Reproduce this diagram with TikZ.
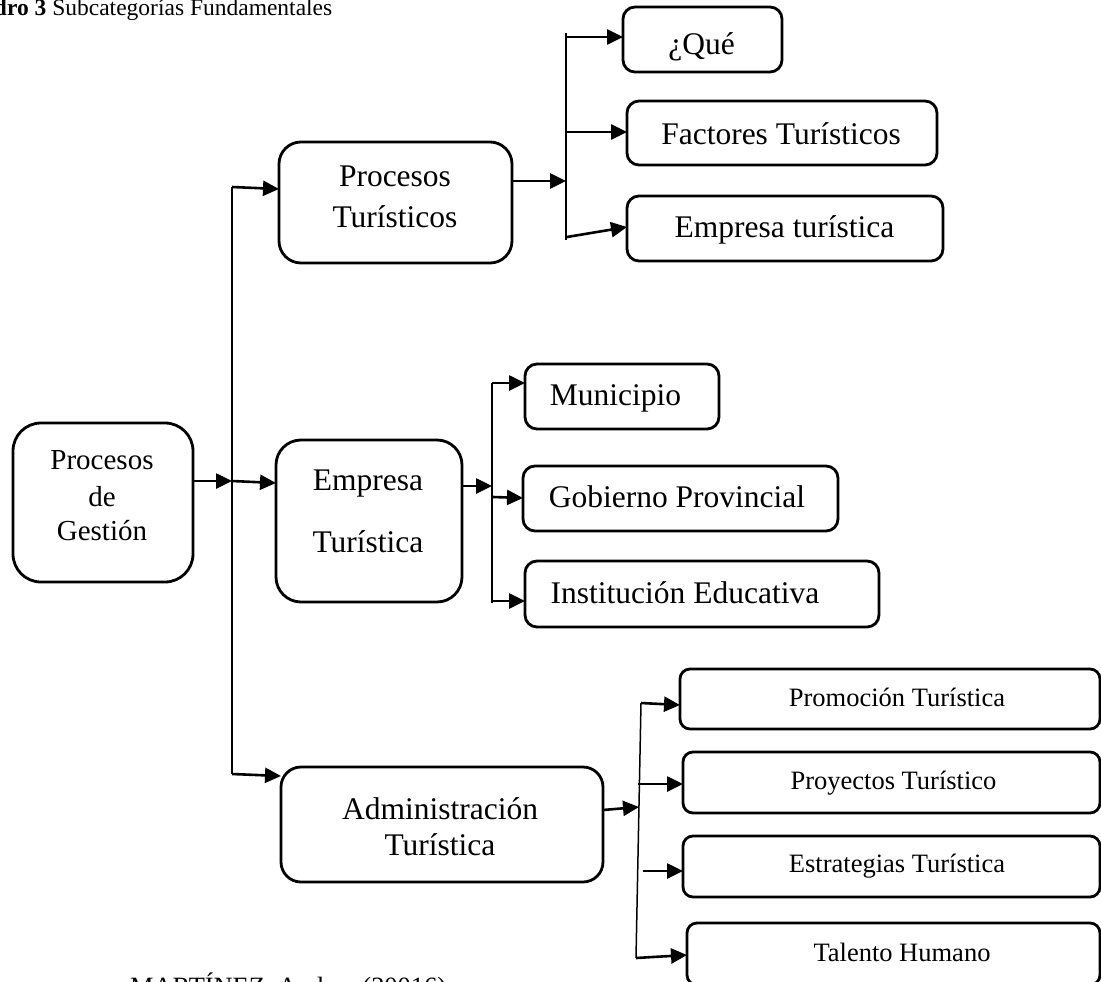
\documentclass[tikz,border=0pt]{standalone}
\usepackage{fontspec}
\setmainfont{Liberation Serif}
\usetikzlibrary{arrows.meta}
\begin{document}
\begin{tikzpicture}[x=1pt,y=-1pt,
  box/.style={draw, line width=2.8pt, rounded corners=#1, inner sep=0pt, outer sep=0pt},
  box/.default=12pt,
  lbl/.style={anchor=base, inner sep=0pt, font=\fontsize{31.5}{38}\selectfont},
  lbls/.style={anchor=base, inner sep=0pt, font=\fontsize{26.5}{32}\selectfont},
  arr/.style={line width=2.6pt, -{Triangle[length=16pt,width=15pt]}},
  trunk/.style={line width=1.5pt}]
\path[use as bounding box] (0,0) rectangle (1101,982);
\clip (0,0) rectangle (1101,982);
\fill[white] (0,0) rectangle (1101,982);

% title and source
\node[anchor=base west, inner sep=0pt, font=\fontsize{23.5}{28}\selectfont] (title) at (-48,16) {\textbf{Cuadro 3} Subcategorías Fundamentales};
\node[anchor=base west, inner sep=0pt, font=\fontsize{26.4}{30}\selectfont] (src) at (130,995) {MARTÍNEZ, Andrea (20016)};

% boxes
\node[box=28pt, minimum width=180pt, minimum height=159pt] (gest) at (103,502.5) {};
\node[box=22pt, minimum width=233pt, minimum height=121pt] (pt) at (395.5,202.5) {};
\node[box=25pt, minimum width=186pt, minimum height=162pt] (et) at (369,521) {};
\node[box=20pt, minimum width=322pt, minimum height=115pt] (at) at (442,824.5) {};
\node[box, minimum width=159pt, minimum height=65pt] (que) at (702.5,39.5) {};
\node[box, minimum width=310pt, minimum height=64pt] (fac) at (782,133) {};
\node[box, minimum width=316pt, minimum height=65pt] (emt) at (785,228.5) {};
\node[box, minimum width=194pt, minimum height=65pt] (mun) at (622,396.5) {};
\node[box, minimum width=315pt, minimum height=65pt] (gob) at (680.5,498.5) {};
\node[box, minimum width=354pt, minimum height=66pt] (ins) at (702,594) {};
\node[box=10pt, minimum width=420pt, minimum height=60pt] (pro) at (890,699) {};
\node[box=10pt, minimum width=417pt, minimum height=61pt] (proy) at (891.5,782.5) {};
\node[box=10pt, minimum width=417pt, minimum height=61pt] (est) at (891.5,866.5) {};
\node[box=10pt, minimum width=413pt, minimum height=62pt] (tal) at (893.5,954) {};

% texts
\node[lbl, font=\fontsize{29}{35}\selectfont] (gestA) at (102,469) {Procesos};
\node[lbl, font=\fontsize{29}{35}\selectfont] (gestB) at (102,506) {de};
\node[lbl, font=\fontsize{29}{35}\selectfont] (gestC) at (102,540) {Gestión};
\node[lbl] (ptA) at (395,186.5) {Procesos};
\node[lbl] (ptB) at (395,227) {Turísticos};
\node[lbl] (etA) at (368,490) {Empresa};
\node[lbl] (etB) at (368,552) {Turística};
\node[lbl] (atA) at (440,819) {Administración};
\node[lbl] (atB) at (440,855) {Turística};
\node[lbl] (queT) at (701.5,55) {¿Qué};
\node[lbl] (facT) at (781,144) {Factores Turísticos};
\node[lbl] (emtT) at (784.5,237) {Empresa turística};
\node[lbl] (munT) at (615.5,405) {Municipio};
\node[lbl] (gobT) at (677,507) {Gobierno Provincial};
\node[lbl] (insT) at (685,603) {Institución Educativa};
\node[lbls] (proT) at (897,706.5) {Promoción Turística};
\node[lbls] (proyT) at (893.5,789) {Proyectos Turístico};
\node[lbls] (estT) at (897,872.5) {Estrategias Turística};
\node[lbls] (talT) at (902,961) {Talento Humano};

% main trunk
\coordinate (m0) at (232,481);
\coordinate (mt) at (232,187);
\coordinate (mb) at (232,774);
\draw[trunk] (mt) -- (mb);
\draw[arr] (gest.east |- m0) -- (m0);
\draw[arr] (m0) -- (et.west |- 0,483);
\draw[arr] (mt) -- (pt.west |- 0,189);
\draw[arr] (mb) -- (at.west |- 0,776);

% group 1
\coordinate (g1) at (566,181);
\coordinate (g1t) at (566,33);
\coordinate (g1b) at (566,240);
\coordinate (g1a) at (567,37);
\coordinate (g1c) at (567,132);
\coordinate (g1d) at (567,237);
\draw[trunk] (g1t) -- (g1b);
\draw[arr] (pt.east |- g1) -- (g1);
\draw[arr] (g1a) -- (que.west |- g1a);
\draw[arr] (g1c) -- (fac.west |- g1c);
\draw[arr] (g1d) -- (emt.west |- 0,227);

% group 2
\coordinate (g2) at (492,486);
\coordinate (g2t) at (492,383);
\coordinate (g2b) at (492,603);
\coordinate (g2c) at (493,497);
\coordinate (g2d) at (492,601);
\draw[line width=1.9pt] (g2t) -- (g2b);
\draw[arr] (et.east |- g2) -- (g2);
\draw[arr] (g2t) -- (mun.west |- g2t);
\draw[arr] (g2c) -- (gob.west |- 0,498);
\draw[arr] (g2d) -- (ins.west |- g2d);

% group 3
\coordinate (g3) at (639,807);
\coordinate (g3t) at (641,703);
\coordinate (g3b) at (636,958);
\coordinate (g3c) at (638,784);
\coordinate (g3d) at (643,871);
\draw[trunk] (g3t) -- (g3b);
\draw[arr] (at.east |- 0,810) -- (g3);
\draw[arr] (g3t) -- (pro.west |- 0,705);
\draw[arr] (g3c) -- (proy.west |- g3c);
\draw[arr] (g3d) -- (est.west |- g3d);
\draw[arr] (g3b) -- (tal.west |- 0,955);
\end{tikzpicture}
\end{document}
